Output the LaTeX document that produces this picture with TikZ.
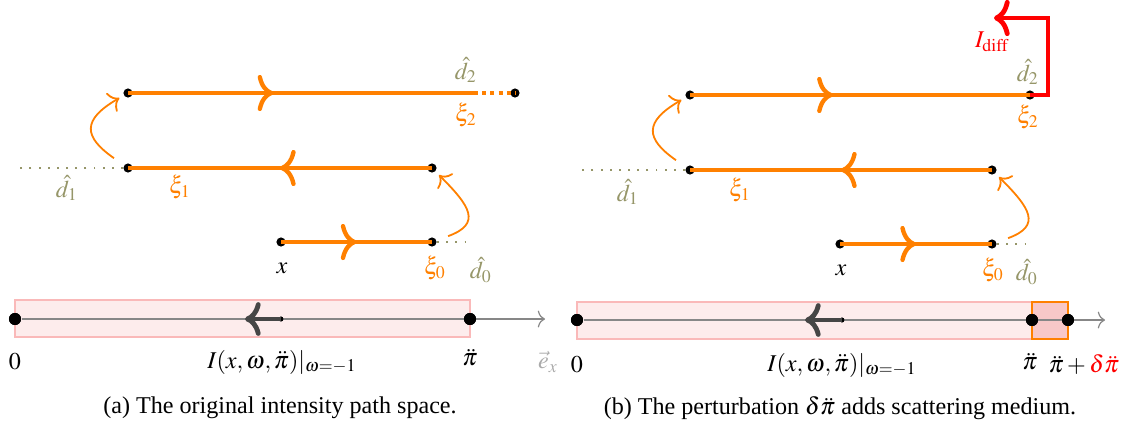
\documentclass[tikz,border=0pt]{standalone}
\usepackage{mathptmx}
\usepackage[no-math]{fontspec}
\setmainfont{Liberation Serif}
\usepackage{tikz}
\usetikzlibrary{arrows,arrows.meta,positioning,calc,decorations.markings}
\definecolor{pathorange}{RGB}{255,128,0}
\definecolor{dirolive}{RGB}{150,150,105}
\definecolor{mediumpink}{RGB}{253,236,236}
\definecolor{mediumedge}{RGB}{250,185,185}
\definecolor{deltapink}{RGB}{248,200,200}
\definecolor{axisgray}{RGB}{135,135,135}
\definecolor{intgray}{RGB}{70,70,70}
\definecolor{exgray}{RGB}{170,170,170}
\tikzset{
  vtx/.style={circle, fill=black, inner sep=0pt, minimum size=3.8pt},
  bigvtx/.style={circle, fill=black, inner sep=0pt, minimum size=5pt},
  smallvtx/.style={circle, fill=black, inner sep=0pt, minimum size=2pt},
  seg/.style={pathorange, line width=1.8pt, postaction={decorate},
    decoration={markings, mark=at position #1 with {\arrow{Computer Modern Rightarrow[length=6.5pt, width=15pt]}}}},
  seg/.default=0.5,
  hop/.style={pathorange, line width=0.75pt, -{Computer Modern Rightarrow[length=4pt, width=9pt]}},
  dirline/.style={dirolive, line width=0.8pt, dash pattern=on 0.8pt off 3pt},
  medium/.style={fill=mediumpink, draw=mediumedge, line width=0.6pt},
  axis/.style={axisgray, line width=0.5pt, -{Computer Modern Rightarrow[length=3pt, width=7pt]}},
  intarrow/.style={intgray, line width=2pt, -{Computer Modern Rightarrow[length=6.5pt, width=14pt]}},
  dlab/.style={text=dirolive},
  xilab/.style={text=pathorange}
}
\begin{document}
\begin{tikzpicture}[x=0.415pt, y=-0.415pt]
  \useasboundingbox (0,0) rectangle (1127,435);

  % (a) 経路
  \node[vtx] (ax) at (281,242) {};
  \node[vtx] (axi0) at (432,242) {};
  \node[vtx] (am1) at (432,168) {};
  \node[vtx] (axi1) at (128,168) {};
  \node[vtx] (at2) at (128,93) {};
  \coordinate (axi2) at (474,93);
  \node[vtx] (aend) at (515,93) {};
  \coordinate (ad1) at (20,168);
  \coordinate (ad0) at (470,242);

  \draw[dirline] (axi1) -- (ad1);
  \draw[dirline] (axi0) -- (ad0);
  \draw[seg] (ax.center) -- (axi0.center);
  \draw[seg] (am1.center) -- (axi1.center);
  \draw[seg=0.42] (at2.center) -- (axi2);
  \draw[pathorange, line width=1.8pt, dash pattern=on 1.7pt off 1.7pt] (axi2) -- (aend.center);
  \draw[hop, shorten <=5pt, shorten >=2pt] (axi0) to[out=20, in=-45, looseness=1.8] (am1);
  \draw[hop, shorten <=5pt, shorten >=2pt] (axi1) to[out=145, in=210, looseness=1.8] (at2);

  \node[dlab] (ld2a) at (466,70) {$\hat d_2$};
  \node[xilab] (lxi2a) at (466,115) {$\xi_2$};
  \node[dlab] (ld1a) at (67,188) {$\hat d_1$};
  \node[xilab] (lxi1a) at (180,187) {$\xi_1$};
  \node (lxa) at (282,268) {$x$};
  \node[xilab] (lxi0a) at (435,268) {$\xi_0$};
  \node[dlab] (ld0a) at (481,270) {$\hat d_0$};

  % (a) 区間
  \draw[medium] (15,300) rectangle (470,337);
  \coordinate (aaxis) at (545,319);
  \node[bigvtx] (a0) at (15,319) {};
  \node[bigvtx] (api) at (470,319) {};
  \node[smallvtx] (ai) at (281,319) {};
  \coordinate (aiend) at (245,319);
  \draw[axis] (a0) -- (aaxis);
  \fill (a0) circle (2.5pt) (api) circle (2.5pt) (ai) circle (1pt);
  \draw[intarrow] (ai.center) -- (aiend);

  \node (l0a) at (15,362) {$0$};
  \node (lIa) at (282,362) {$I(x,\omega,\ddot\pi)|_{\omega=-1}$};
  \node (lpia) at (470,358) {$\ddot\pi$};
  \node[text=exgray] (lexa) at (548,362) {$\vec e_x$};
  \node (capa) at (280,408) {(a) The original intensity path space.};

  % (b) 経路
  \node[vtx] (bx) at (840,244) {};
  \node[vtx] (bxi0) at (992,244) {};
  \node[vtx] (bm1) at (992,170) {};
  \node[vtx] (bxi1) at (690,170) {};
  \node[vtx] (bt2) at (690,95) {};
  \node[vtx] (bxi2) at (1030,95) {};
  \coordinate (bd1) at (580,170);
  \coordinate (bd0) at (1030,244);
  \coordinate (br1) at (1048,95);
  \coordinate (br2) at (1048,18);
  \coordinate (br3) at (994,18);

  \draw[dirline] (bxi1) -- (bd1);
  \draw[dirline] (bxi0) -- (bd0);
  \draw[seg] (bx.center) -- (bxi0.center);
  \draw[seg] (bm1.center) -- (bxi1.center);
  \draw[seg=0.42] (bt2.center) -- (bxi2.center);
  \draw[hop, shorten <=5pt, shorten >=2pt] (bxi0) to[out=20, in=-45, looseness=1.8] (bm1);
  \draw[hop, shorten <=5pt, shorten >=2pt] (bxi1) to[out=145, in=210, looseness=1.8] (bt2);
  \draw[red, line width=2pt, -{Computer Modern Rightarrow[length=6.5pt, width=15pt]}]
    (bxi2.center) -- (br1) -- (br2) -- (br3);

  \node[text=red] (lIdiff) at (992,42) {$I_{\mathrm{diff}}$};
  \node[dlab] (ld2b) at (1028,72) {$\hat d_2$};
  \node[xilab] (lxi2b) at (1028,117) {$\xi_2$};
  \node[dlab] (ld1b) at (628,192) {$\hat d_1$};
  \node[xilab] (lxi1b) at (740,190) {$\xi_1$};
  \node (lxb) at (841,270) {$x$};
  \node[xilab] (lxi0b) at (993,270) {$\xi_0$};
  \node[dlab] (ld0b) at (1027,272) {$\hat d_0$};

  % (b) 区間
  \draw[medium] (577,302) rectangle (1032,339);
  \draw[fill=deltapink, draw=pathorange, line width=0.6pt] (1032,302) rectangle (1068,339);
  \coordinate (baxis) at (1105,320);
  \node[bigvtx] (b0) at (577,320) {};
  \node[bigvtx] (bpi) at (1032,320) {};
  \node[bigvtx] (bpid) at (1068,320) {};
  \node[smallvtx] (bi) at (842,320) {};
  \coordinate (biend) at (805,320);
  \draw[axis] (b0) -- (baxis);
  \fill (b0) circle (2.5pt) (bpi) circle (2.5pt) (bpid) circle (2.5pt) (bi) circle (1pt);
  \draw[intarrow] (bi.center) -- (biend);

  \node (l0b) at (577,365) {$0$};
  \node (lIb) at (842,365) {$I(x,\omega,\ddot\pi)|_{\omega=-1}$};
  \node (lpib) at (1030,362) {$\ddot\pi$};
  \node (lpidb) at (1084,365) {$\ddot\pi + {\color{red}\delta\ddot\pi}$};
  \node (capb) at (840,408) {(b) The perturbation $\delta\ddot\pi$ adds scattering medium.};
\end{tikzpicture}
\end{document}
